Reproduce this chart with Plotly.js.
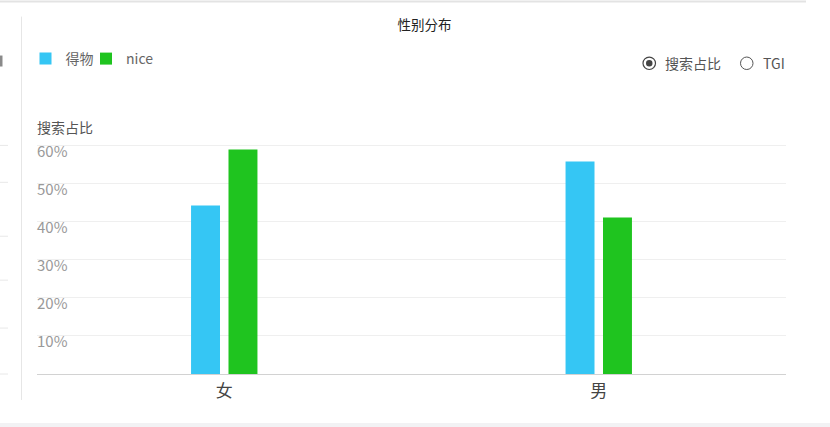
<!DOCTYPE html>
<html>
<head>
<meta charset="utf-8">
<script src="https://cdn.plot.ly/plotly-3.0.1.min.js"></script>
<style>
html,body{margin:0;padding:0;background:#fff;}
#chart{width:830px;height:427px;}
</style>
</head>
<body>
<div id="chart"></div>
<script>
const categories = ['女', '男'];
const seriesNames = ['得物', 'nice'];
const dewuValues = [44.2, 55.8];
const niceValues = [58.9, 41.1];
const yTickValues = [10, 20, 30, 40, 50, 60];
const yTickLabels = ['10%', '20%', '30%', '40%', '50%', '60%'];
const radioLabels = ['搜索占比', 'TGI'];

const W = 830, H = 427;
const YMAX = 62.2;
const L = 37, R = 786, B = 374;
const T = B - 229 * YMAX / 60;
const FONT = '"Noto Sans CJK SC", "Noto Sans", sans-serif';
const px = x => (x - L) / (R - L);
const py = y => (B - y) / (B - T);

const traces = [
  {type: 'bar', name: seriesNames[0], x: categories, y: dewuValues,
   marker: {color: '#35c6f4'}, hoverinfo: 'skip', legend: 'legend'},
  {type: 'bar', name: seriesNames[1], x: categories, y: niceValues,
   marker: {color: '#1fc41f'}, hoverinfo: 'skip', legend: 'legend2'}
];

const shapes = [
  {type: 'line', xref: 'paper', yref: 'paper', x0: px(0), x1: px(806), y0: py(0.8), y1: py(0.8),
   line: {color: '#e3e3e3', width: 2}},
  {type: 'line', xref: 'paper', yref: 'paper', x0: px(21.5), x1: px(21.5), y0: py(16), y1: py(400),
   line: {color: '#e6e6e6', width: 1}},
  {type: 'rect', xref: 'paper', yref: 'paper', x0: px(0), x1: px(830), y0: py(423), y1: py(428),
   fillcolor: '#f2f2f4', line: {width: 0}},
  {type: 'rect', xref: 'paper', yref: 'paper', x0: px(0), x1: px(2.5), y0: py(55), y1: py(66),
   fillcolor: '#8a8a8a', line: {width: 0}}
];
[145, 182, 236, 280, 328, 374].forEach(y => {
  shapes.push({type: 'line', xref: 'paper', yref: 'paper', x0: px(0), x1: px(8), y0: py(y), y1: py(y),
    line: {color: '#e8e8e8', width: 1}});
});
shapes.push({type: 'circle', xref: 'paper', yref: 'paper', x0: px(643), x1: px(655.5), y0: py(56.5), y1: py(69),
  line: {color: '#444', width: 1.2}, fillcolor: 'rgba(0,0,0,0)'});
shapes.push({type: 'circle', xref: 'paper', yref: 'paper', x0: px(646), x1: px(652.5), y0: py(59.5), y1: py(66),
  line: {width: 0}, fillcolor: '#444'});
shapes.push({type: 'circle', xref: 'paper', yref: 'paper', x0: px(740.5), x1: px(753), y0: py(56.5), y1: py(69),
  line: {color: '#555', width: 1}, fillcolor: 'rgba(0,0,0,0)'});

const annotations = [
  {text: '搜索占比', xref: 'paper', yref: 'paper', x: px(35), y: py(127), xanchor: 'left', yanchor: 'middle',
   showarrow: false, font: {family: FONT, size: 14, color: '#555'}},
  {text: radioLabels[0], xref: 'paper', yref: 'paper', x: px(663), y: py(62), xanchor: 'left', yanchor: 'middle',
   showarrow: false, font: {family: FONT, size: 14, color: '#555'}},
  {text: radioLabels[1], xref: 'paper', yref: 'paper', x: px(761), y: py(62), xanchor: 'left', yanchor: 'middle',
   showarrow: false, font: {family: FONT, size: 14, color: '#555'}}
];

const legendBase = {orientation: 'h', xref: 'container', yref: 'container', y: 1 - 59 / H,
  xanchor: 'left', yanchor: 'middle', font: {family: FONT, size: 14, color: '#666'},
  bgcolor: 'rgba(0,0,0,0)', itemclick: false, itemdoubleclick: false};

const layout = {
  width: W, height: H,
  margin: {l: L, r: W - R, t: T, b: H - B, pad: 0},
  paper_bgcolor: '#ffffff', plot_bgcolor: '#ffffff',
  font: {family: FONT},
  title: {text: '性别分布', x: 424.5 / W, xref: 'container', xanchor: 'center',
          y: 1 - 25 / H, yref: 'container', yanchor: 'middle',
          font: {family: FONT, size: 13.5, color: '#222'}},
  barmode: 'group', bargap: 0.8, bargroupgap: 0.227,
  showlegend: true,
  legend: Object.assign({}, legendBase, {x: 25.5 / W}),
  legend2: Object.assign({}, legendBase, {x: 86 / W}),
  xaxis: {type: 'category', range: [-0.5, 1.5], autorange: false, showgrid: false, showline: true,
          linecolor: '#d2d2d2', linewidth: 1, ticks: '', ticklabelstandoff: 2,
          tickfont: {family: FONT, size: 17, color: '#444'}, fixedrange: true},
  yaxis: {range: [0, YMAX], autorange: false, tickvals: yTickValues, ticktext: yTickLabels, showgrid: true,
          gridcolor: '#efefef', gridwidth: 1, zeroline: false, showline: false, ticks: '',
          ticklabelposition: 'inside', ticklabelshift: 6, ticklabelstandoff: -3,
          tickfont: {family: FONT, size: 15, color: '#999'}, fixedrange: true},
  shapes: shapes,
  annotations: annotations
};

Plotly.newPlot('chart', traces, layout, {displayModeBar: false, staticPlot: true});
</script>
</body>
</html>
